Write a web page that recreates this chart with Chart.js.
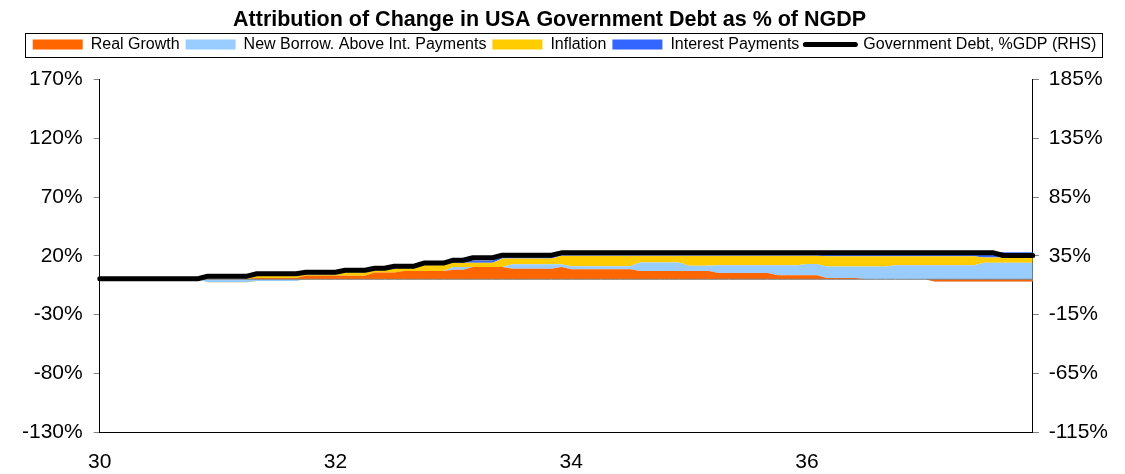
<!DOCTYPE html>
<html>
<head>
<meta charset="utf-8">
<script src="https://cdn.jsdelivr.net/npm/chart.js@4.4.1/dist/chart.umd.min.js"></script>
<style>
  html, body { margin: 0; padding: 0; background: #fff; }
  #wrap { width: 1125px; height: 474px; }
</style>
</head>
<body>
<div id="wrap"><canvas id="debtChart" width="1125" height="474"></canvas></div>
<script>
// monthly points, one row per year (1930 .. 1937)
const years = ['30', '31', '32', '33', '34', '35', '36', '37'];
const months = [];
years.forEach(y => { for (let m = 0; m < 12; m++) months.push(y); });

const realGrowth = [
  0, 0, 0, 0, 0, 0, 0, 0, 0, 0, 0, 0,
  0, 0, 0, 0, 1, 1, 1, 1, 1, 3, 3, 3,
  3, 3, 3, 3, 5.7, 5.7, 5.7, 7, 7, 7, 7, 7,
  8, 8, 10.5, 10.5, 10.5, 10.5, 9, 9, 9, 9, 9, 10.5,
  8.5, 8.5, 8.5, 8.5, 8.5, 8.5, 8.5, 7, 7, 7, 7, 7,
  7, 7, 7, 5.4, 5.4, 5.4, 5.4, 5.4, 5.4, 3.4, 3.4, 3.4,
  3.4, 3.4, 1, 1, 1, 1, 0, 0, 0, 0, 0, 0,
  0, -2, -2, -2, -2, -2, -2, -2, -2, -2, -2, -2
];
const newBorrow = [
  0, 0, 0, 0, 0, 0, 0, 0, 0, 0, 0, -2.5,
  -2.5, -2.5, -2.5, -2.5, -2.5, -2.5, -2.5, -2.5, -2.5, -2.5, -2.5, -2.5,
  0, 0, 0, 0, 0, 0, 0, 0, 0, 0, 0, 0,
  2.5, 2.5, 0, 0, 0, 0, 3.8, 3.8, 3.8, 3.8, 3.8, 2.3,
  2.5, 2.5, 2.5, 2.5, 2.5, 2.5, 2.5, 7.2, 7.2, 7.2, 7.2, 7.2,
  4.4, 4.4, 4.4, 6.6, 6.6, 6.6, 6.6, 6.6, 6.6, 8.6, 8.6, 8.6,
  9.6, 9.6, 9.8, 9.8, 9.8, 9.8, 10.8, 10.8, 10.8, 12, 12, 12,
  12, 14, 14, 14, 14, 14, 16, 16, 16, 16, 16, 16
];
const inflation = [
  0, 0, 0, 0, 0, 0, 0, 0, 0, 0, 0, 3.2,
  3.2, 3.2, 3.2, 3.2, 4.3, 4.3, 4.3, 4.3, 4.3, 3.6, 3.6, 3.6,
  1.1, 2.8, 2.8, 2.8, 1.8, 1.8, 3.5, 2.2, 2.2, 5, 5, 5,
  3.5, 3.5, 3.5, 3.5, 3.5, 7.1, 4.8, 4.8, 4.8, 4.8, 4.8, 7.1,
  8.9, 8.9, 8.9, 8.9, 8.9, 8.9, 8.9, 5.7, 5.7, 5.7, 5.7, 5.7,
  8.5, 8.5, 8.5, 7.9, 7.9, 7.9, 7.9, 7.9, 7.9, 7.9, 7.9, 7.9,
  6.9, 6.9, 8.7, 8.7, 8.7, 8.7, 8.7, 8.7, 8.7, 7.5, 7.5, 7.5,
  7.5, 7.5, 7.5, 7.5, 7.5, 7.5, 4.5, 4.5, 4.5, 4.5, 4.5, 4.5
];
const interest = [
  0, 0, 0, 0, 0, 0, 0, 0, 0, 0, 0, 1.5,
  1.5, 1.5, 1.5, 1.5, 1.5, 1.5, 1.5, 1.5, 1.5, 1.5, 1.5, 1.5,
  1.5, 1.5, 1.5, 1.5, 1.5, 1.5, 1.5, 1.5, 1.5, 1.5, 1.5, 1.5,
  2, 2, 2, 2, 2, 2, 2, 2, 2, 2, 2, 2.2,
  2.2, 2.2, 2.2, 2.2, 2.2, 2.2, 2.2, 2.2, 2.2, 2.2, 2.2, 2.2,
  2.2, 2.2, 2.2, 2.2, 2.2, 2.2, 2.2, 2.2, 2.2, 2.2, 2.2, 2.2,
  2.2, 2.2, 2.5, 2.5, 2.5, 2.5, 2.5, 2.5, 2.5, 2.5, 2.5, 2.5,
  2.5, 2.5, 2.5, 2.5, 2.5, 2.5, 4.5, 4.5, 4.5, 4.5, 4.5, 4.5
];
// RHS
const govDebt = [
  15.4, 15.4, 15.4, 15.4, 15.4, 15.4, 15.4, 15.4, 15.4, 15.4, 15.4, 17.6,
  17.6, 17.6, 17.6, 17.6, 19.7, 19.7, 19.7, 19.7, 19.7, 21, 21, 21,
  21, 22.7, 22.7, 22.7, 24.4, 24.4, 26.1, 26.1, 26.1, 28.8, 28.8, 28.8,
  31.2, 31.2, 33.3, 33.3, 33.3, 35.5, 35.5, 35.5, 35.5, 35.5, 35.5, 37.5,
  37.5, 37.5, 37.5, 37.5, 37.5, 37.5, 37.5, 37.5, 37.5, 37.5, 37.5, 37.5,
  37.5, 37.5, 37.5, 37.5, 37.5, 37.5, 37.5, 37.5, 37.5, 37.5, 37.5, 37.5,
  37.5, 37.5, 37.5, 37.5, 37.5, 37.5, 37.5, 37.5, 37.5, 37.5, 37.5, 37.5,
  37.5, 37.5, 37.5, 37.5, 37.5, 37.5, 37.5, 37.5, 35.2, 35.2, 35.2, 35.2
];
const zeroLine = months.map(() => 0);

const FONT = '"Liberation Sans", Arial, sans-serif';

// box round the legend, like the excel one
const legendBox = {
  id: 'legendBox',
  beforeInit(chart) {
    // a bit more room between legend and plot
    const fit = chart.legend.fit;
    chart.legend.fit = function () { fit.call(this); this.height += 17; };
  },
  afterDraw(chart) {
    const boxes = chart.legend && chart.legend.legendHitBoxes;
    if (!boxes || !boxes.length) return;
    const first = boxes[0];
    const last = boxes[boxes.length - 1];
    const cy = first.top + first.height / 2;
    const ctx = chart.ctx;
    ctx.save();
    ctx.strokeStyle = '#000';
    ctx.lineWidth = 1;
    ctx.strokeRect(Math.round(first.left - 8) + 0.5, Math.round(cy - 12) + 0.5,
      Math.round(last.left + last.width - first.left + 13), 24);
    ctx.restore();
  }
};

function area(label, data, color, fill) {
  return {
    label: label, data: data, yAxisID: 'y',
    backgroundColor: color, borderColor: color, borderWidth: 0,
    fill: fill, pointRadius: 0, tension: 0
  };
}

const ctx = document.getElementById('debtChart').getContext('2d');
const chart = new Chart(ctx, {
  type: 'line',
  data: {
    labels: months,
    datasets: [
      area('Real Growth', realGrowth, '#FF6600', 'origin'),
      area('New Borrow. Above Int. Payments', newBorrow, '#99CCFF', '-1'),
      area('Inflation', inflation, '#FFCC00', '-1'),
      area('Interest Payments', interest, '#3366FF', '-1'),
      {
        label: 'Government Debt, %GDP (RHS)', data: govDebt, yAxisID: 'y2',
        borderColor: '#000', backgroundColor: '#000', borderWidth: 5,
        borderCapStyle: 'round', borderJoinStyle: 'round',
        fill: false, pointRadius: 0, order: -2, legendLine: true
      },
      {
        data: zeroLine, yAxisID: 'y', stack: 'zero',
        borderColor: '#808080', borderWidth: 1, fill: false, pointRadius: 0, order: -1
      }
    ]
  },
  options: {
    responsive: false,
    animation: false,
    events: [],
    layout: { padding: { left: 11, right: 7, top: 0, bottom: 0 } },
    plugins: {
      title: {
        display: true,
        // trailing spaces nudge the title a little left, as in the original
        text: 'Attribution of Change in USA Government Debt as % of NGDP     ',
        color: '#000',
        font: { family: FONT, size: 21.5, weight: 'bold', lineHeight: 1 },
        padding: { top: 9, bottom: 0 }
      },
      legend: {
        display: true,
        labels: {
          color: '#000',
          font: { family: FONT, size: 16 },
          usePointStyle: true,
          pointStyleWidth: 50,
          boxHeight: 10,
          padding: 6,
          generateLabels(chart) {
            const ds = chart.data.datasets;
            return ds.filter(d => d.label).map(d => ({
              text: d.label,
              fillStyle: d.backgroundColor,
              strokeStyle: d.borderColor,
              lineWidth: d.legendLine ? 5 : 0,
              lineCap: 'round',
              pointStyle: d.legendLine ? 'line' : 'rect',
              hidden: false,
              datasetIndex: ds.indexOf(d)
            }));
          }
        }
      },
      tooltip: { enabled: false }
    },
    scales: {
      x: {
        grid: { display: false, drawTicks: false },
        border: { display: true, color: '#000', width: 1 },
        afterFit: s => { s.height = 42; },
        ticks: {
          autoSkip: false, maxRotation: 0, padding: 18, color: '#000',
          font: { family: FONT, size: 21 },
          callback: function (val, i) { return i % 24 === 0 ? this.getLabelForValue(val) : null; }
        }
      },
      y: {
        position: 'left',
        stacked: 'single',
        min: -130, max: 170,
        grid: { drawOnChartArea: false, drawTicks: true, tickLength: 6, color: '#808080' },
        border: { display: true, color: '#000', width: 1 },
        ticks: {
          stepSize: 50, padding: 11, color: '#000',
          font: { family: FONT, size: 21 },
          callback: v => v + '%'
        }
      },
      y2: {
        position: 'right',
        min: -115, max: 185,
        grid: { drawOnChartArea: false, drawTicks: true, tickLength: 6, color: '#808080' },
        border: { display: true, color: '#000', width: 1 },
        ticks: {
          stepSize: 50, padding: 10, color: '#000',
          font: { family: FONT, size: 21 },
          callback: v => v + '%'
        }
      }
    }
  },
  plugins: [legendBox]
});
</script>
</body>
</html>
